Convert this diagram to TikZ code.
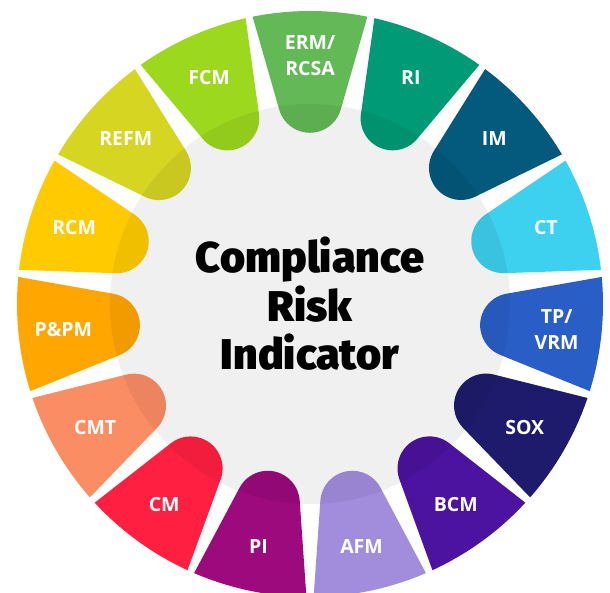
\documentclass[tikz,border=0pt]{standalone}
\usepackage{fontspec}
\IfFontExistsTF{Open Sans ExtraBold}
  {\setmainfont{Open Sans}[BoldFont={* ExtraBold}]}
  {\setmainfont{Open Sans}}
\IfFontExistsTF{Fira Sans Black}
  {\newfontfamily\heavyfont{Fira Sans Black}}
  {\newfontfamily\heavyfont{Fira Sans}[UprightFont={* Bold}]}

\definecolor{ermgreen}{HTML}{63B956}
\definecolor{riteal}{HTML}{009B76}
\definecolor{impetrol}{HTML}{045A7C}
\definecolor{ctcyan}{HTML}{3DD0EF}
\definecolor{tpblue}{HTML}{2A5EC7}
\definecolor{soxnavy}{HTML}{1E1B6C}
\definecolor{bcmpurple}{HTML}{4B139F}
\definecolor{afmlilac}{HTML}{A28DDD}
\definecolor{pimagenta}{HTML}{9C0A7D}
\definecolor{cmred}{HTML}{FF1F41}
\definecolor{cmtsalmon}{HTML}{FB8D65}
\definecolor{ppmorange}{HTML}{FFA600}
\definecolor{rcmyellow}{HTML}{FFCB00}
\definecolor{refmolive}{HTML}{D5D522}
\definecolor{fcmlime}{HTML}{9CD81D}

\begin{document}
\begin{tikzpicture}[
    x=1pt, y=1pt,
    petal/.pic={
      \fill[#1] (11.3:293) -- (194.4,30.8)
        arc[start angle=106, end angle=254, radius=32]
        -- (-11.3:293) arc[start angle=-11.3, end angle=11.3, radius=293] -- cycle;
    },
    acronym/.style={text=white, font=\bfseries\fontsize{19.5}{26}\selectfont, align=center},
    hub/.style={circle, minimum size=400pt, fill=black, fill opacity=0.06, text opacity=1,
      align=center, font=\heavyfont\fontsize{43}{48.5}\selectfont}
]
\useasboundingbox (-310,-288) rectangle (300,304);

% Segments
\pic[rotate=90] (erm) at (0,0) {petal=ermgreen};
\pic[rotate=66] (ri) at (0,0) {petal=riteal};
\pic[rotate=42] (im) at (0,0) {petal=impetrol};
\pic[rotate=18] (ct) at (0,0) {petal=ctcyan};
\pic[rotate=-6] (tp) at (0,0) {petal=tpblue};
\pic[rotate=-30] (sox) at (0,0) {petal=soxnavy};
\pic[rotate=-54] (bcm) at (0,0) {petal=bcmpurple};
\pic[rotate=-78] (afm) at (0,0) {petal=afmlilac};
\pic[rotate=-102] (pi) at (0,0) {petal=pimagenta};
\pic[rotate=-126] (cm) at (0,0) {petal=cmred};
\pic[rotate=-150] (cmt) at (0,0) {petal=cmtsalmon};
\pic[rotate=-174] (ppm) at (0,0) {petal=ppmorange};
\pic[rotate=162] (rcm) at (0,0) {petal=rcmyellow};
\pic[rotate=138] (refm) at (0,0) {petal=refmolive};
\pic[rotate=114] (fcm) at (0,0) {petal=fcmlime};

% Centre
\node[hub] (indicator) at (0,0) {Compliance\\Risk\\Indicator};

% Labels
\node[acronym] (ermlabel) at (90:248) {ERM/\\RCSA};
\node[acronym] (rilabel) at (66:248) {RI};
\node[acronym] (imlabel) at (42:248) {IM};
\node[acronym] (ctlabel) at (18:248) {CT};
\node[acronym] (tplabel) at (-6:248) {TP/\\VRM};
\node[acronym] (soxlabel) at (-30:248) {SOX};
\node[acronym] (bcmlabel) at (-54:248) {BCM};
\node[acronym] (afmlabel) at (-78:248) {AFM};
\node[acronym] (pilabel) at (-102:248) {PI};
\node[acronym] (cmlabel) at (-126:248) {CM};
\node[acronym] (cmtlabel) at (-150:248) {CMT};
\node[acronym] (ppmlabel) at (-174:248) {P\&PM};
\node[acronym] (rcmlabel) at (162:248) {RCM};
\node[acronym] (refmlabel) at (138:248) {REFM};
\node[acronym] (fcmlabel) at (114:248) {FCM};

\end{tikzpicture}
\end{document}
